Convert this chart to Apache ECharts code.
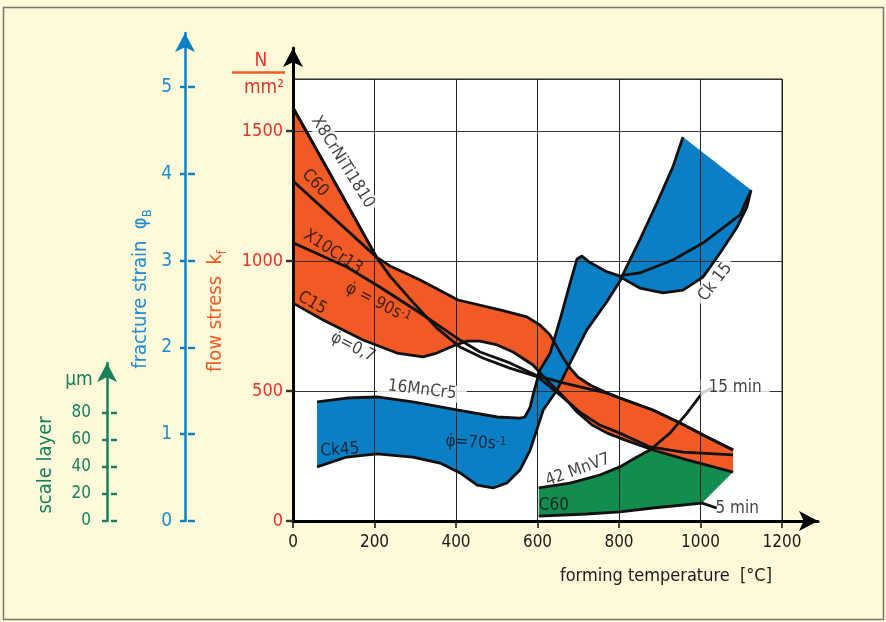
<!DOCTYPE html>
<html><head><meta charset="utf-8">
<script src="https://cdn.jsdelivr.net/npm/echarts/dist/echarts.min.js"></script>
<style>html,body{margin:0;padding:0;background:#fef9d8;}#c{width:886px;height:622px;}</style>
</head><body><div id="c"></div>
<script>
// ---------- tick values ----------
const tempTicks = [0, 200, 400, 600, 800, 1000, 1200];
const stressTicks = [0, 500, 1000, 1500];
const strainTicks = [0, 1, 2, 3, 4, 5];
const scaleTicks = [0, 20, 40, 60, 80];

// ---------- curves: [temperature °C, flow stress N/mm²] ----------
const orangeTop = [[0,1590],[100,1310],[205,1015],[238,981],[312,927],[405,850],[508,812],[574,785],[606,754],[631,715],[648,669],[663,627],[680,588],[699,554],[729,523],[771,492],[802,473],[883,427],[950,377],[1016,323],[1080,273]];
const orangeBottom = [[0,838],[74,773],[172,696],[255,646],[319,631],[353,646],[393,673],[427,692],[459,692],[501,677],[540,650],[589,600],[623,542],[660,485],[697,419],[734,369],[771,338],[802,319],[883,273],[967,235],[1080,188]];
const lineX8 = [[0,1590],[100,1310],[205,1015],[238,942],[294,842],[353,742],[410,669],[466,627],[532,588],[601,554],[655,485],[704,419],[753,369],[802,338],[876,285],[957,265],[1080,254]];
const lineC60 = [[0,1308],[205,1015]];
const lineX10Cr13 = [[0,1070],[132,977],[213,900],[312,800],[410,696],[459,650],[532,608],[601,558],[663,531],[720,510],[771,492],[802,473],[883,427],[950,377],[1016,323],[1080,273]];

const blueTop = [[59,458],[132,473],[206,477],[294,458],[402,427],[501,400],[557,396],[569,400],[582,438],[589,485],[606,581],[631,646],[655,773],[680,915],[697,1008],[709,1019],[729,994],[771,958],[807,940],[851,1081],[893,1223],[932,1361],[957,1477]];
const blueBottom = [[59,208],[132,246],[206,258],[294,246],[361,223],[410,185],[452,138],[491,127],[525,146],[557,196],[582,273],[606,388],[614,427],[648,504],[680,608],[721,735],[771,845],[807,935],[851,896],[908,877],[957,888],[1006,938],[1048,1031],[1090,1131],[1114,1208],[1124,1273]];
const lineCk15 = [[807,945],[851,954],[932,1004],[1006,1069],[1097,1177],[1121,1262]];

const line42MnV7 = [[603,127],[680,146],[753,177],[802,208],[844,246],[876,273],[925,338],[967,415],[1004,492],[1028,512]];
const line5min = [[603,19],[721,27],[802,35],[883,50],[1004,69],[1040,50]];

// ---------- annotations: text, T, stress, rotation ----------
const notes = [
  ['X8CrNiTi1810', 122, 1380, -58],
  ['C60', 54, 1300, -47],
  ['X10Cr13', 98, 1035, -33],
  ['φ̇ = 90s{sup|-1}', 209, 838, -27],
  ['C15', 47, 838, -30],
  ['φ̇=0,7', 147, 669, -27],
  ['16MnCr5', 317, 504, -7],
  ['Ck45', 115, 273, 4],
  ['φ̇=70s{sup|-1}', 449, 300, -3],
  ['Ck 15', 1036, 919, 52],
  ['15 min', 1085, 512, 0],
  ['5 min', 1090, 46, 0],
  ['42 MnV7', 699, 196, 20],
  ['C60', 640, 58, 0]
];
const masked = {'X8CrNiTi1810':[1,3], '16MnCr5':[0,10], 'Ck 15':[1,4], '15 min':[0,8]};

// ---------- styling ----------
const FONT = "'Liberation Sans Narrow','Arial Narrow','DejaVu Sans Condensed',sans-serif";
const RED = '#e8322b', ORANGE = '#f15a24', BLUE = '#0a7fc6', BLUE_T = '#1f8bd0', GREEN = '#138c50', GREEN_T = '#16805c';
function plain(v) { return String(v); }

const orangeArea = orangeTop.concat(orangeBottom.slice().reverse());
const blueArea = blueTop.concat(blueBottom.slice().reverse());
const greenArea = line42MnV7.slice(0, 6)
  .concat(orangeBottom.filter(function (p) { return p[0] >= 883; }))
  .concat(line5min.slice(0, 5).reverse());

function polygon(points, color, z) {
  return {
    type: 'custom', xAxisIndex: 0, yAxisIndex: 0, z: z, silent: true, data: [[0, 0]],
    renderItem: function (params, api) {
      return { type: 'polygon', shape: { points: points.map(function (p) { return api.coord(p); }) }, style: { fill: color } };
    }
  };
}
function curve(points, w) {
  return { type: 'line', xAxisIndex: 0, yAxisIndex: 0, z: 4, silent: true, showSymbol: false, data: points,
    lineStyle: { color: '#111', width: w || 2.8 } };
}
function hiddenX(gi) { return { type: 'value', gridIndex: gi, show: false, min: 0, max: 1 }; }
function arrowY(gi, color, w) {
  return { type: 'value', gridIndex: gi, min: 0, max: 1, z: 3,
    axisLine: { show: true, onZero: false, symbol: ['none', 'arrow'], symbolSize: [15, 19], lineStyle: { color: color, width: w } },
    axisTick: { show: false }, axisLabel: { show: false }, splitLine: { show: false } };
}
function tickY(gi, ticks, color, inside, len, label) {
  return { type: 'value', gridIndex: gi, min: ticks[0], max: ticks[ticks.length - 1], interval: ticks[1] - ticks[0], z: 3,
    axisLine: { show: false, onZero: false },
    axisTick: { show: true, inside: inside, length: len, lineStyle: { color: color, width: 2.4 } },
    axisLabel: label ? Object.assign({ show: true, fontFamily: FONT, formatter: plain }, label) : { show: false },
    splitLine: { show: false } };
}

const chart = echarts.init(document.getElementById('c'), null, { renderer: 'canvas' });
chart.setOption({
  animation: false,
  backgroundColor: '#fef9d8',
  grid: [
    { left: 293, top: 79, width: 489, height: 442, show: true, backgroundColor: '#ffffff', borderColor: '#222', borderWidth: 1 },
    { left: 293, top: 131, width: 489, height: 390 },
    { left: 293, top: 48, width: 525, height: 473 },
    { left: 185, top: 33, width: 10, height: 488 },
    { left: 185, top: 87, width: 10, height: 434 },
    { left: 107, top: 363, width: 10, height: 158 },
    { left: 107, top: 413, width: 10, height: 108 }
  ],
  xAxis: [
    { type: 'value', gridIndex: 0, min: tempTicks[0], max: tempTicks[tempTicks.length - 1], interval: tempTicks[1] - tempTicks[0], z: 3,
      axisLine: { show: false },
      axisTick: { show: true, length: 7, lineStyle: { color: '#111', width: 1.5 } },
      axisLabel: { fontSize: 17, color: '#1a1a1a', fontFamily: FONT, margin: 13, formatter: plain },
      splitLine: { show: true, lineStyle: { color: '#222', width: 1 } } },
    hiddenX(1),
    { type: 'value', gridIndex: 2, min: 0, max: 1, z: 3,
      axisLine: { show: true, onZero: false, symbol: ['none', 'arrow'], symbolSize: [15, 19], lineStyle: { color: '#000', width: 3 } },
      axisTick: { show: false }, axisLabel: { show: false }, splitLine: { show: false } },
    hiddenX(3), hiddenX(4), hiddenX(5), hiddenX(6)
  ],
  yAxis: [
    { type: 'value', gridIndex: 0, min: 0, max: 1700, interval: 500, z: 3,
      axisLine: { show: false }, axisTick: { show: false }, axisLabel: { show: false },
      splitLine: { show: true, lineStyle: { color: '#333', width: 1 } } },
    tickY(1, stressTicks, '#333', false, 7, { color: RED, fontSize: 18, margin: 10 }),
    arrowY(2, '#000', 3),
    arrowY(3, BLUE, 2.5),
    tickY(4, strainTicks, BLUE, false, 5, { color: BLUE_T, fontSize: 19, margin: 13 }),
    tickY(4, strainTicks, BLUE, true, 7, null),
    arrowY(5, GREEN_T, 2.5),
    tickY(6, scaleTicks, GREEN_T, false, 5, { color: GREEN_T, fontSize: 17, margin: 16 }),
    tickY(6, scaleTicks, GREEN_T, true, 6, null)
  ],
  series: [
    polygon(orangeArea, ORANGE, 1),
    polygon(greenArea, GREEN, 1),
    polygon(blueArea, BLUE, 2),
    curve(orangeTop), curve(orangeBottom), curve(lineX8), curve(lineC60), curve(lineX10Cr13),
    curve(blueTop), curve(blueBottom), curve(lineCk15),
    curve(line42MnV7), curve(line5min),
    { type: 'scatter', xAxisIndex: 0, yAxisIndex: 0, z: 6, silent: true, symbolSize: 0,
      data: notes.map(function (n) {
        var lab = { show: true, position: 'inside', formatter: n[0], rotate: n[3], color: '#111', fontSize: 17, fontFamily: FONT,
          rich: { sup: { fontSize: 12, fontFamily: FONT, color: '#111', verticalAlign: 'top' } } };
        if (masked[n[0]]) { lab.backgroundColor = '#fff'; lab.padding = masked[n[0]]; }
        return { value: [n[1], n[2]], label: lab };
      }) }
  ],
  graphic: [
    { type: 'rect', shape: { x: 3.5, y: 7.5, width: 880, height: 612 }, style: { fill: 'none', stroke: '#777', lineWidth: 1.5 }, z: 10 },
    { type: 'text', x: 666, y: 576, style: { text: 'forming temperature  [°C]', font: '18px ' + FONT, fill: '#1a1a1a', align: 'center', verticalAlign: 'middle' } },
    { type: 'text', x: 216, y: 311, rotation: Math.PI / 2, style: { text: '{a|flow stress  k}{s|f}', align: 'center', verticalAlign: 'middle',
        rich: { a: { fontSize: 20, fontFamily: FONT, fill: ORANGE, lineHeight: 26 }, s: { fontSize: 13, fontFamily: FONT, fill: ORANGE, verticalAlign: 'bottom' } } } },
    { type: 'text', x: 141, y: 289, rotation: Math.PI / 2, style: { text: '{a|fracture strain  φ}{s|B}', align: 'center', verticalAlign: 'middle',
        rich: { a: { fontSize: 20, fontFamily: FONT, fill: BLUE_T, lineHeight: 26 }, s: { fontSize: 13, fontFamily: FONT, fill: BLUE_T, verticalAlign: 'bottom' } } } },
    { type: 'text', x: 46, y: 465, rotation: Math.PI / 2, style: { text: 'scale layer', font: '20px ' + FONT, fill: GREEN_T, align: 'center', verticalAlign: 'middle' } },
    { type: 'text', x: 79, y: 380, style: { text: 'μm', font: '19px ' + FONT, fill: GREEN_T, align: 'center', verticalAlign: 'middle' } },
    { type: 'text', x: 261, y: 61, style: { text: 'N', font: '19px ' + FONT, fill: RED, align: 'center', verticalAlign: 'middle' } },
    { type: 'line', shape: { x1: 232, y1: 72.5, x2: 285, y2: 72.5 }, style: { stroke: ORANGE, lineWidth: 2.5 } },
    { type: 'text', x: 264, y: 88, style: { text: 'mm²', font: '19px ' + FONT, fill: RED, align: 'center', verticalAlign: 'middle' } }
  ]
});
</script></body></html>
